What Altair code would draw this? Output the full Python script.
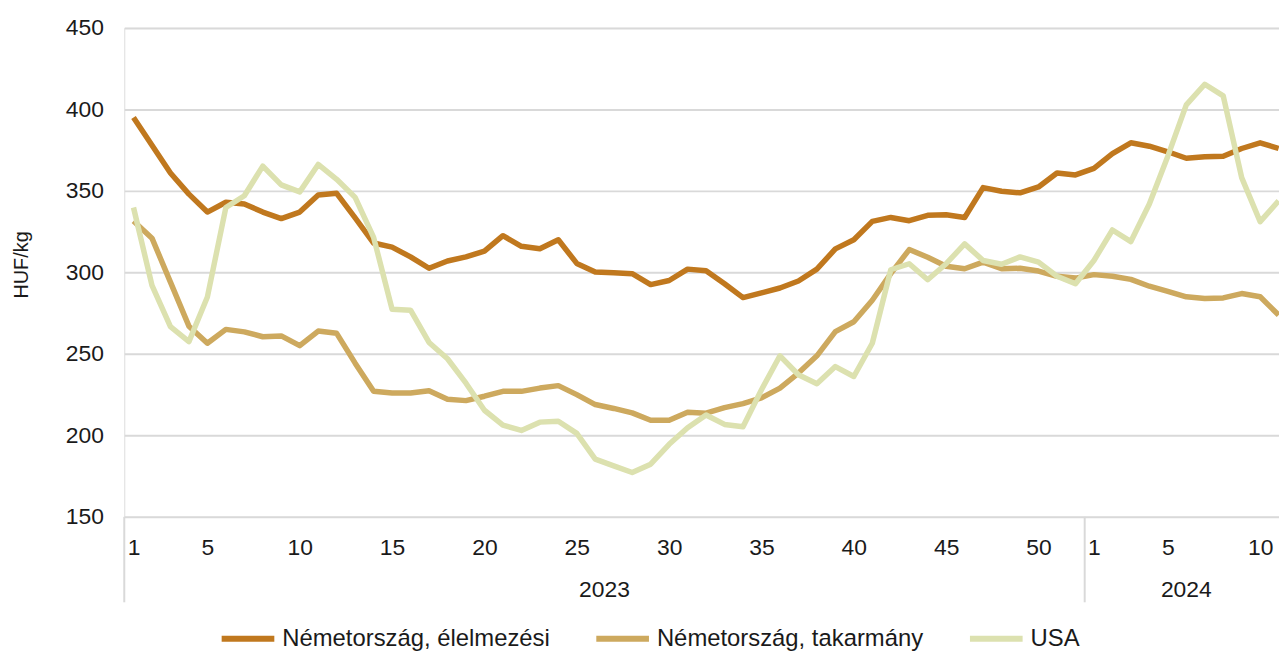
import altair as alt
import pandas as pd

# ---- data ----
series_names = ["Németország, élelmezési", "Németország, takarmány", "USA"]
series_colors = ["#C0781E", "#CDA95E", "#DCE1AF"]

years = ["2023", "2024"]
weeks_2023 = list(range(1, 53))
weeks_2024 = list(range(1, 12))

elelmezesi = [
    395, 378, 361, 348, 337, 343, 342, 337, 333, 337,
    347.5, 348.5, 333.5, 318, 315.5, 309.5, 302.5, 307, 309.5, 313,
    322.5, 316, 314.5, 320, 305.5, 300.2, 299.8, 299.2, 292.5, 295,
    302, 301, 293, 284.5, 287.4, 290.4, 294.7, 302, 314.4, 320,
    331.3, 333.7, 331.7, 335, 335.4, 333.7, 352, 349.8, 348.8, 352.4,
    361, 359.8,
    363.8, 372.8, 379.5, 377.4, 374, 370, 371, 371.3, 376, 379.5, 376,
]
takarmany = [
    331.5, 321, 294, 267, 256.5, 265, 263.5, 260.5, 261, 255,
    264, 262.6, 244.3, 227, 226, 226, 227.4, 222.2, 221.3, 224,
    227, 227, 229, 230.5, 225, 218.9, 216.5, 213.8, 209.3, 209.3,
    214.2, 213.6, 217, 219.5, 223, 229, 238.2, 248.8, 263.6, 269.7,
    282.9, 299.2, 314, 309.3, 303.8, 302.2, 306.3, 302.2, 302.5, 300.8,
    297.6, 296.5,
    298.6, 297.6, 295.7, 291.5, 288.4, 285, 284, 284.3, 287, 285, 273.8,
]
usa = [
    339.8, 292, 266.7, 257.5, 284.9, 339.8, 347, 365.2, 353.7, 349.4,
    366.2, 357.1, 346, 321.5, 277.4, 276.8, 257, 247, 232, 215.4,
    206.3, 203, 208.1, 208.7, 201.2, 185.4, 181.3, 177.2, 182.3, 194.5,
    204.7, 212.5, 206.7, 205.3, 228, 248.8, 237.2, 231.7, 242.2, 236.1,
    256.5, 301.6, 305.3, 295.5, 305.3, 317.5, 307.3, 305, 309.5, 306.3,
    297.6, 293,
    307.3, 326, 318.9, 341.9, 371.3, 402.8, 415.4, 408.3, 358.1, 331.1, 343.9,
]

tick_weeks_2023 = [1, 5, 10, 15, 20, 25, 30, 35, 40, 45, 50]
tick_weeks_2024 = [1, 5, 10]
y_ticks = [150, 200, 250, 300, 350, 400, 450]

# ---- build tables ----
n23 = len(weeks_2023)
idx = list(range(n23 + len(weeks_2024)))
rows = []
for k, (name, vals) in enumerate(zip(series_names, [elelmezesi, takarmany, usa])):
    for i, v in zip(idx, vals):
        rows.append({"idx": i, "series": name, "value": v, "order": k})
df = pd.DataFrame(rows)

tick_idx = [w - 1 for w in tick_weeks_2023] + [n23 + w - 1 for w in tick_weeks_2024]

x_min = -0.5
x_max = 62.02
year_bounds = [(-0.5, n23 - 0.5), (n23 - 0.5, n23 + 10.5)]
df_years = pd.DataFrame({
    "year": years,
    "pos": [(a + b) / 2 for a, b in year_bounds],
})
df_bounds = pd.DataFrame({"bound": [year_bounds[0][0], year_bounds[1][0]]})

FONT = "Liberation Sans"
TXT = "#1a1a1a"
GRID = "#d9d9d9"

xscale = alt.Scale(domain=[x_min, x_max], nice=False, zero=False)
xaxis = alt.Axis(values=tick_idx, grid=False, domain=False, ticks=False,
                 labelExpr=f"datum.value < {n23} ? datum.value + 1 : datum.value - {n23 - 1}",
                 labelFontSize=23, labelFont=FONT, labelColor=TXT,
                 labelPadding=20, labelFlush=False, labelOverlap=False,
                 title=None)

lines = alt.Chart(df).mark_line(strokeWidth=5.5, strokeJoin="round").encode(
    x=alt.X("idx:Q", scale=xscale, axis=xaxis),
    y=alt.Y("value:Q", scale=alt.Scale(domain=[150, 450], nice=False, zero=False),
            axis=alt.Axis(values=y_ticks, grid=True, gridColor=GRID, gridWidth=2,
                          domain=False, ticks=False, labelFontSize=23, labelFont=FONT,
                          labelColor=TXT, labelPadding=21,
                          title="HUF/kg", titleFont=FONT, titleFontSize=20,
                          titleFontWeight="normal", titleColor=TXT,
                          titleAngle=-90, titleX=-103, titleY=238,
                          titleAlign="center", titleBaseline="middle")),
    color=alt.Color("series:N",
                    scale=alt.Scale(domain=series_names, range=series_colors),
                    legend=alt.Legend(orient="none", legendX=95, legendY=585,
                                      direction="horizontal", title=None,
                                      symbolType="stroke", symbolSize=2809,
                                      symbolStrokeWidth=6, labelFontSize=24,
                                      labelFont=FONT, labelColor=TXT,
                                      labelOffset=5, columnPadding=34,
                                      labelLimit=400)),
    order=alt.Order("order:Q"),
    detail="series:N",
)

year_text = alt.Chart(df_years).mark_text(fontSize=23, font=FONT, color=TXT,
                                          baseline="middle", align="center").encode(
    x=alt.X("pos:Q", scale=xscale, axis=xaxis),
    y=alt.value(566),
    text="year:N",
)

bound_rules = alt.Chart(df_bounds).mark_rule(color=GRID, strokeWidth=2).encode(
    x=alt.X("bound:Q", scale=xscale, axis=xaxis),
    y=alt.value(492),
    y2=alt.value(578),
)

chart = alt.layer(lines, bound_rules, year_text).properties(
    width=1162, height=492,
    autosize=alt.AutoSizeParams(type="none"),
    padding={"left": 117, "top": 18, "right": 0, "bottom": 136},
).configure_view(stroke=None).configure(background="white")

chart.save("out.html", embed_options={"renderer": "svg", "actions": False})
